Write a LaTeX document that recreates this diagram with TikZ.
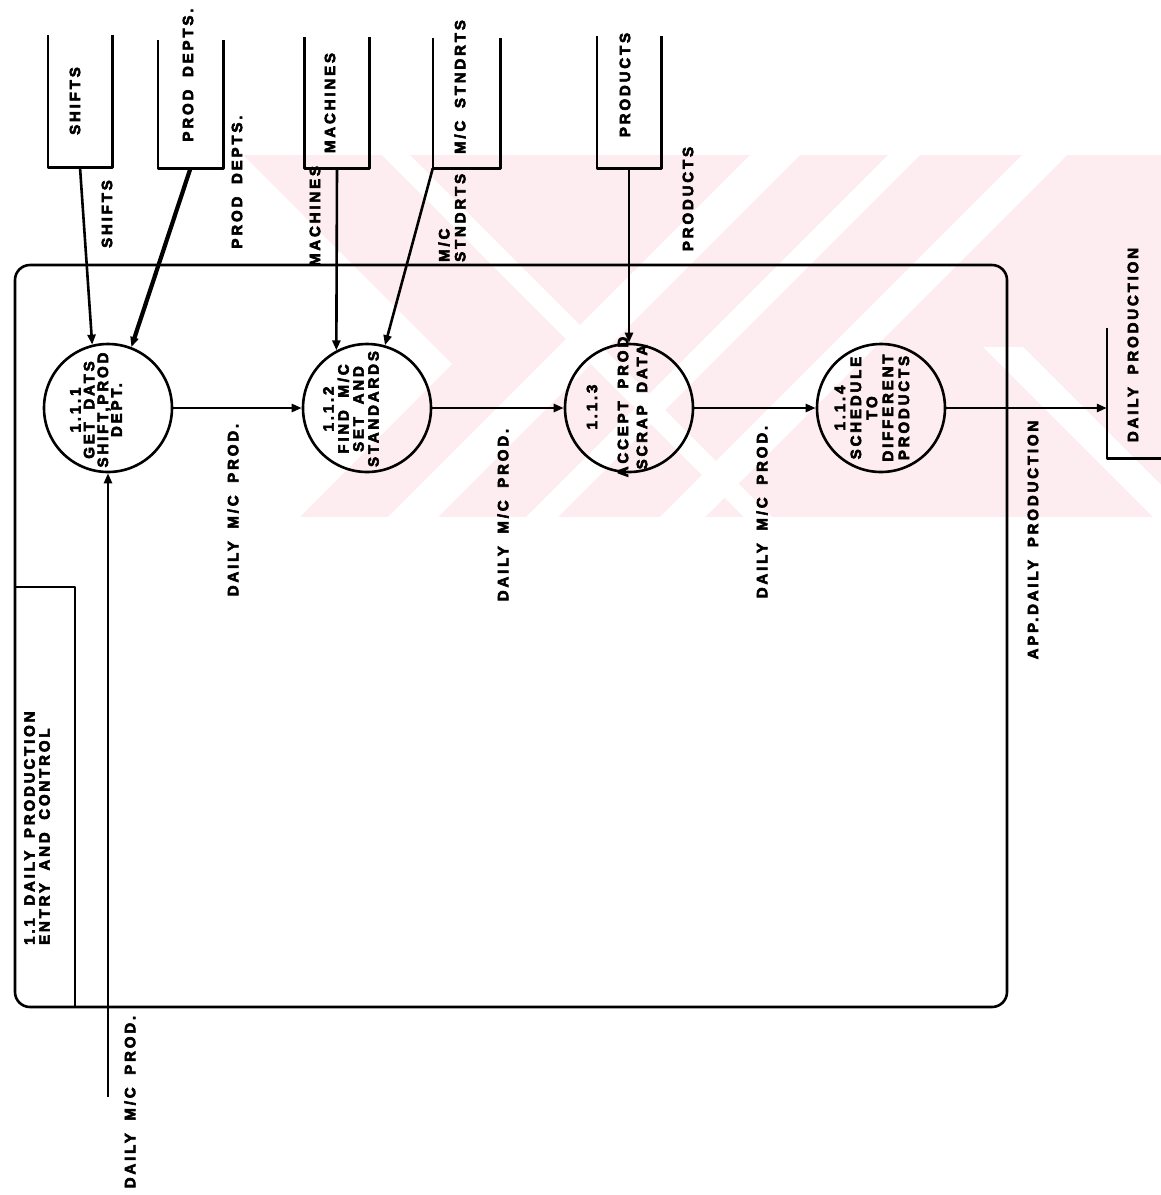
\documentclass[tikz,border=0pt]{standalone}
\usepackage{fontspec}
\newfontfamily\dfdfont{Liberation Sans Bold}[LetterSpace=19, WordSpace=1.8, FakeBold=4]
\usetikzlibrary{arrows.meta}
\definecolor{wmpink}{RGB}{253,237,240}
\begin{document}
\begin{tikzpicture}[x=1pt,y=-1pt,
  every node/.style={font=\dfdfont\fontsize{15}{15}\selectfont},
  ln/.style={line width=2.6pt, line join=round},
  flow/.style={ln, -{Triangle[length=10pt,width=8pt]}},
  proc/.style={circle, draw, ln, minimum size=128pt, inner sep=0pt},
  store/.style={draw=none, inner sep=0pt},
  vlab/.style={rotate=90, inner sep=0pt},
  ptext/.style={rotate=90, inner sep=0pt, align=center},
]
\useasboundingbox (0,0) rectangle (1161,1195);

% faint background stripes
\begin{scope}
  \clip (240,155) rectangle (1161,517);
  \fill[wmpink] (240,155) rectangle (1161,517);
  \fill[white] (240,155) -- (243,155) -- (452,364) -- (300,517) -- (240,517) -- cycle;
  \fill[white] (382,155) -- (410,155) -- (772,517) -- (744,517) -- cycle;
  \fill[white] (750,155) -- (800,155) -- (438,517) -- (388,517) -- cycle;
  \fill[white] (888,155) -- (920,155) -- (558,517) -- (526,517) -- cycle;
  \fill[white] (1022,155) -- (1067,155) -- (705,517) -- (660,517) -- cycle;
  \fill[white] (983,347) -- (1023,347) -- (1193,517) -- (1153,517) -- cycle;
\end{scope}

% process boundary and title panel
\node[draw, ln, rounded corners=15pt, minimum width=992pt, minimum height=742pt, inner sep=0pt] (frame) at (511,636) {};
\coordinate (titleTop) at (15,587);
\draw[ln] (titleTop) -| (75,1007);
\node[vlab, align=left, anchor=west] (title) at (37,945) {1.1 DAILY PRODUCTION\\ENTRY AND CONTROL};

% data stores (open at the top)
\node[store, minimum width=64pt, minimum height=132pt] (sShifts) at (80,101) {};
\node[store, minimum width=65pt, minimum height=128pt] (sDepts) at (190.5,104) {};
\node[store, minimum width=65pt, minimum height=131pt] (sMach) at (337,102.5) {};
\node[store, minimum width=67pt, minimum height=130pt] (sStd) at (466.5,103) {};
\node[store, minimum width=64pt, minimum height=132pt] (sProd) at (629,102) {};
\node[store, minimum width=60pt, minimum height=130pt] (sDaily) at (1137,393) {};
\foreach \s in {sShifts,sDepts,sMach,sStd,sProd}
  \draw[ln] (\s.north west) -- (\s.south west) -- (\s.south east) -- (\s.north east);
\draw[ln] (sDaily.north west) -- (sDaily.south west) -- (sDaily.south east);

\node[vlab] (tShifts) at (75,101) {SHIFTS};
\node[vlab] (tDepts) at (188,75) {PROD DEPTS.};
\node[vlab] (tMach) at (330,103) {MACHINES};
\node[vlab] (tStd) at (460,87) {M/C STNDRTS};
\node[vlab] (tProd) at (625,85) {PRODUCTS};
\node[vlab] (tDaily) at (1133,345) {DAILY PRODUCTION};

% processes
\node[proc] (c1) at (108,408) {};
\node[proc] (c2) at (367,408) {};
\node[proc] (c3) at (629,408) {};
\node[proc] (c4) at (881,408) {};

\node[ptext, font=\dfdfont\fontsize{15}{13.8}\selectfont] (p1) at (96,410) {1.1.1\\GET DATS\\SHIFT,PROD\\DEPT.};
\node[ptext] (p2) at (351,409) {1.1.2\\FIND M/C\\SET AND\\STANDARDS};
\node[ptext, font=\dfdfont\fontsize{15}{19}\selectfont] (p3) at (617,407) {1.1.3\\[12pt]ACCEPT PROD\\SCRAP DATA};
\node[ptext, font=\dfdfont\fontsize{15}{16}\selectfont] (p4) at (872,408) {1.1.4\\SCHEDULE\\TO\\DIFFERENT\\PRODUCTS};

% data flows
\draw[flow] (sShifts.south) -- (c1.104);
\draw[flow, line width=4.2pt] (sDepts.south) -- (c1.69);
\draw[flow] (sMach.south) -- (c2.118);
\draw[flow] (sStd.south west) -- (c2.74);
\draw[flow] (sProd.south) -- (c3.north);
\coordinate (dmIn) at (108,1097);
\draw[flow] (dmIn) -- (c1.south);
\draw[flow] (c1.east) -- (c2.west);
\draw[flow] (c2.east) -- (c3.west);
\draw[flow] (c3.east) -- (c4.west);
\draw[flow] (c4.east) -- (c4.east -| sDaily.west);

% flow labels
\node[vlab] (fShifts) at (107,214) {SHIFTS};
\node[vlab] (fDepts) at (237,182) {PROD DEPTS.};
\node[vlab] (fMach) at (315,216) {MACHINES};
\node[vlab, align=left, anchor=west, font=\dfdfont\fontsize{15}{16}\selectfont] (fStd) at (452,262) {M/C\\STNDRTS};
\node[vlab] (fProd) at (688,199) {PRODUCTS};
\node[vlab] (f12) at (233,510) {DAILY M/C PROD.};
\node[vlab] (f23) at (503,515) {DAILY M/C PROD.};
\node[vlab] (f34) at (762,512) {DAILY M/C PROD.};
\node[vlab] (f4s) at (1033,540) {APP.DAILY PRODUCTION};
\node[vlab] (fIn) at (130,1102) {DAILY M/C PROD.};
\end{tikzpicture}
\end{document}
